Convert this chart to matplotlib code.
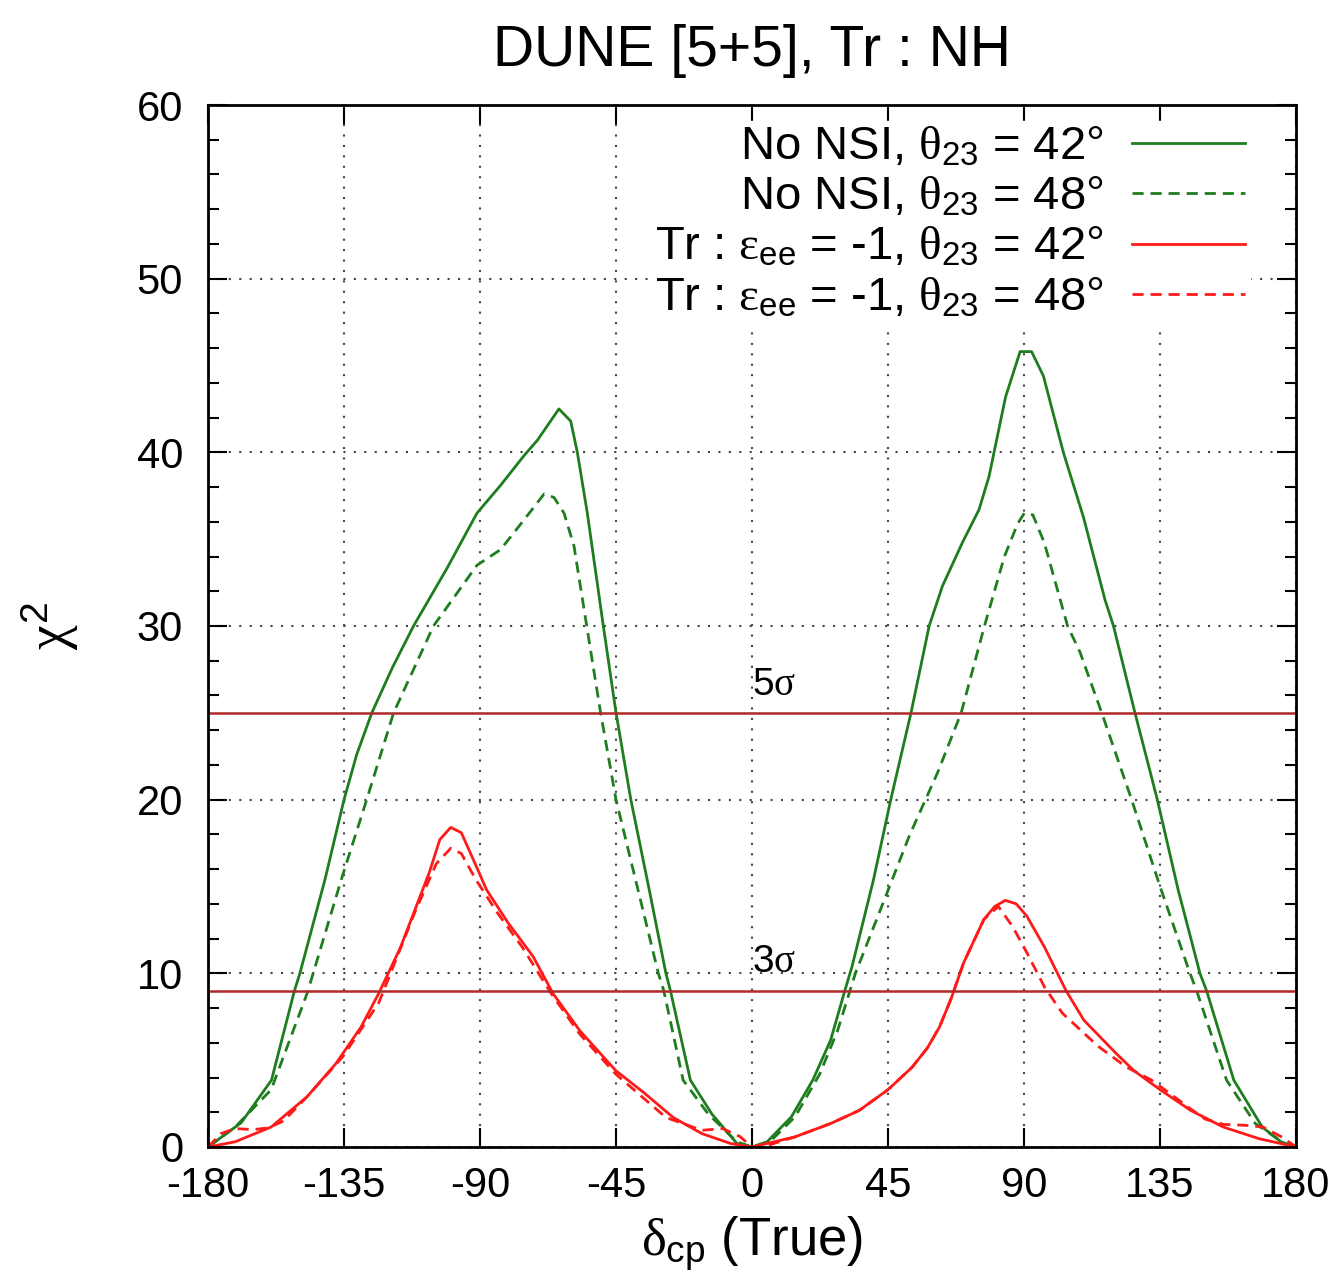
import matplotlib
matplotlib.use("Agg")
import matplotlib.pyplot as plt
from matplotlib.ticker import MultipleLocator

plt.rcParams['font.family'] = ['Liberation Sans', 'DejaVu Sans']
plt.rcParams['mathtext.fontset'] = 'custom'
plt.rcParams['mathtext.rm'] = 'Liberation Sans'
plt.rcParams['mathtext.it'] = 'Liberation Serif'
plt.rcParams['mathtext.bf'] = 'Liberation Sans:bold'
plt.rcParams['axes.unicode_minus'] = False

# No NSI, theta23 = 42 (solid green)
x_g42 = [-180, -169, -159, -151.4, -149.6, -141.3, -135, -130.8, -125.8, -119, -112, -101, -91,
         -83.2, -75.5, -71, -63.9, -60, -57.8, -54.5, -49.2, -45, -40.1, -34, -28.5, -27, -20.4,
         -13.3, -5, 0,
         5, 13, 20.1, 26, 30.7, 33.1, 40.2, 45.9, 52.6, 58.6, 63, 69.6, 75.1, 78.4, 83.9, 88.7,
         92.5, 96.4, 103, 109.6, 116.8, 119.6, 126.7, 134.1, 141, 148.2, 150.4, 159.4, 168.8,
         175, 180]
y_g42 = [0, 1.4, 3.85, 9.0, 10, 15.4, 20, 22.6, 25, 27.6, 30, 33.3, 36.5,
         38.1, 39.8, 40.7, 42.5, 41.8, 40, 36.5, 30, 25, 20, 14.8, 10, 9, 3.85,
         1.9, 0.2, 0,
         0.3, 1.73, 3.85, 6.15, 9, 10.4, 15.4, 20, 25, 30, 32.3, 34.8, 36.7, 38.6, 43.2, 45.8,
         45.8, 44.4, 40, 36.3, 31.5, 30, 25, 20, 14.8, 10, 9, 3.85, 1.15,
         0.3, 0]

# No NSI, theta23 = 48 (dashed green)
x_g48 = [-180, -171, -159.1, -147.2, -135.9, -127.5, -118.6, -105.4, -91, -83.2, -75.5, -68.8,
         -65.5, -62.2, -58.9, -54.7, -50.1, -45, -38, -31, -29.2, -22.8, -14.5, -5, 0,
         5.9, 14.2, 22.4, 28.3, 34.2, 43.7, 52, 61.5, 69.2, 76.9, 83.5, 87.9, 90.1, 92.9, 96.7,
         104.4, 108.5, 115.7, 125.6, 135, 144.9, 147.1, 157, 166.5, 177, 180]
y_g48 = [0, 1.15, 3.3, 8.85, 15.4, 20, 25, 30, 33.5, 34.4, 36.1, 37.6,
         37.4, 36.5, 34.6, 30, 25, 20, 15, 10, 9, 3.85, 1.9, 0.3, 0,
         0.3, 1.73, 4.2, 6.7, 10, 14.2, 17.9, 21.6, 25, 30, 34, 35.9, 36.5, 36.4, 34.8,
         30, 28.5, 25, 20, 15, 10, 9, 3.85, 1.35, 0.1, 0]

# Tr : eps_ee = -1, theta23 = 42 (solid red)
x_r42 = [-180, -171, -159.1, -147.2, -137.7, -129.4, -123.5, -116.3, -106.8, -103.3, -99.7, -96.2,
         -92.6, -87.8, -80.7, -72.4, -65.9, -57, -45.1, -35.6, -26.1, -16.6, -7.1, 0,
         14.2, 26, 35.4, 45, 53, 58, 62, 66, 70, 76.7, 80.3, 83.8, 87.4, 90.9, 96.8,
         103.9, 109.8, 120.4, 126.3, 135, 145.2, 155.9, 167.7, 180]
y_r42 = [0, 0.3, 1.15, 2.9, 4.8, 6.9, 8.85, 11.5, 15.8, 17.7, 18.4, 18.1,
         16.7, 14.8, 12.9, 10.96, 8.85, 6.7, 4.4, 3.1, 1.7, 0.77, 0.2, 0,
         0.58, 1.35, 2.1, 3.3, 4.6, 5.7, 6.9, 8.6, 10.6, 13.1, 13.85, 14.2, 14.0, 13.3, 11.5,
         9, 7.3, 5.4, 4.4, 3.3, 2.1, 1.15, 0.48, 0]

# Tr : eps_ee = -1, theta23 = 48 (dashed red)
x_r48 = [-180, -175.7, -171, -165, -160, -155, -147.2, -135.4, -123.5, -111.6, -104.5, -99.7,
         -96.2, -91.4, -84.3, -76, -66.5, -57, -45.1, -28.5, -16.6, -9.7, -4, 0,
         3.5, 14.2, 26, 35.4, 45, 53, 58, 62, 66, 70, 76.7, 81.5, 86.2, 90.9, 96.8,
         102.7, 114.5, 123.9, 132.2, 138.1, 145, 150, 156, 163, 169, 175, 180]
y_r48 = [0, 0.77, 1.06, 1.0, 1.1, 1.5, 2.9, 5.2, 8.3, 13.5, 16.3, 17.2,
         16.9, 15.4, 13.5, 11.5, 8.85, 6.5, 4.2, 1.7, 0.96, 1.06, 0.6, 0,
         0, 0.58, 1.35, 2.1, 3.3, 4.6, 5.7, 6.9, 8.6, 10.6, 13.1, 13.85, 12.7, 11.2, 9.2,
         7.7, 5.8, 4.6, 3.85, 3.1, 2.2, 1.6, 1.3, 1.25, 1.15, 0.6, 0]

sigma_levels = [25, 9]
sigma_labels = [r'5$\sigma$', r'3$\sigma$']

green = '#1e7d1e'
red = '#ff1a1a'
dash = (0, (4, 2.5))

fig = plt.figure(figsize=(13.36, 12.87), dpi=100)
ax = fig.add_axes([0.1557, 0.1088, 0.8144, 0.8096])

ax.plot(x_g42, y_g42, color=green, lw=2, label=r'No NSI, $\theta_{23}$ = 42°')
ax.plot(x_g48, y_g48, color=green, lw=2, linestyle=dash, label=r'No NSI, $\theta_{23}$ = 48°')
ax.plot(x_r42, y_r42, color=red, lw=2, label=r'Tr : $\varepsilon_{\mathrm{ee}}$ = -1, $\theta_{23}$ = 42°')
ax.plot(x_r48, y_r48, color=red, lw=2, linestyle=dash, label=r'Tr : $\varepsilon_{\mathrm{ee}}$ = -1, $\theta_{23}$ = 48°')

for lvl, lab in zip(sigma_levels, sigma_labels):
    ax.axhline(lvl, color='#b02828', lw=1.8)
    ax.text(0, lvl + 1.05, lab, fontsize=28, ha='left', va='baseline')

ax.set_xlim(-180, 180)
ax.set_ylim(0, 60)
ax.set_xticks([-180, -135, -90, -45, 0, 45, 90, 135, 180])
ax.set_yticks([0, 10, 20, 30, 40, 50, 60])
ax.yaxis.set_minor_locator(MultipleLocator(2))
ax.tick_params(which='major', direction='in', length=14, width=1.5, top=True, right=True, labelsize=30)
ax.tick_params(axis='x', which='major', pad=14)
ax.tick_params(axis='y', which='major', pad=18)
ax.tick_params(which='minor', direction='in', length=8, width=1.5, right=True)
for s in ax.spines.values():
    s.set_linewidth(2)

ax.grid(True, linestyle=(0, (1, 4)), color='#444444', linewidth=1.5)

ax.set_xlabel(r'$\delta_{\mathrm{cp}}$ (True)', fontsize=38, labelpad=6)
ax.set_ylabel(r'$\chi^2$', fontsize=40, labelpad=40)
ax.set_title('DUNE [5+5], Tr : NH', fontsize=41, pad=28)

leg = ax.legend(loc='upper right', bbox_to_anchor=(0.9577, 0.9846), fontsize=34,
                markerfirst=False, handlelength=2.4, handletextpad=0.6, labelspacing=0.13,
                borderpad=0.1, borderaxespad=0, frameon=True, fancybox=False,
                edgecolor='white', framealpha=1)

fig.savefig('out.png', dpi=100)
